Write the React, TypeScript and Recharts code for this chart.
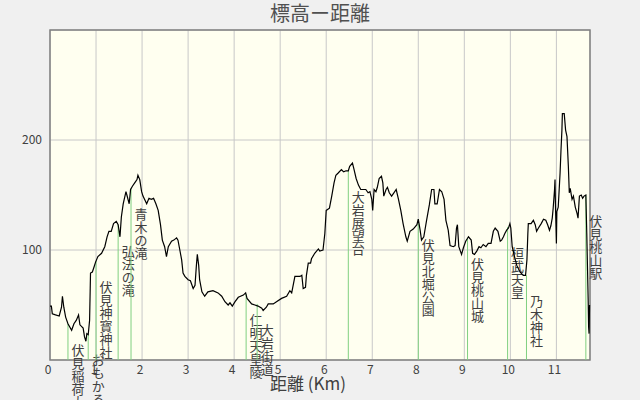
import React from 'react';
import { LineChart, Line, XAxis, YAxis, CartesianGrid, ReferenceLine, ReferenceArea } from 'recharts';

// distance along the route (km) and elevation (m)
const distances = [
  0.0, 0.03, 0.05, 0.12, 0.2, 0.25, 0.27, 0.3, 0.34, 0.39, 0.47, 0.52, 0.57, 0.62, 0.65, 0.72, 0.75, 0.78, 0.8, 0.83,
  0.86, 0.88, 0.92, 0.96, 0.99, 1.04, 1.12, 1.19, 1.24, 1.28, 1.33, 1.38, 1.44, 1.48, 1.52, 1.55, 1.59, 1.65, 1.67, 1.72,
  1.75, 1.79, 1.84, 1.89, 1.91, 1.95, 1.99, 2.02, 2.1, 2.15, 2.2, 2.25, 2.3, 2.35, 2.4, 2.44, 2.49, 2.53, 2.57, 2.64,
  2.69, 2.75, 2.78, 2.82, 2.86, 2.89, 2.93, 3.0, 3.05, 3.11, 3.15, 3.18, 3.2, 3.23, 3.25, 3.3, 3.36, 3.43, 3.54, 3.65,
  3.73, 3.8, 3.87, 3.91, 3.96, 4.02, 4.09, 4.2, 4.25, 4.28, 4.38, 4.45, 4.52, 4.6, 4.63, 4.7, 4.74, 4.85, 4.92, 5.03,
  5.14, 5.21, 5.25, 5.32, 5.43, 5.47, 5.5, 5.55, 5.57, 5.61, 5.66, 5.68, 5.75, 5.83, 5.86, 5.93, 5.97, 6.0, 6.07, 6.12,
  6.17, 6.21, 6.26, 6.33, 6.38, 6.43, 6.48, 6.51, 6.57, 6.6, 6.65, 6.7, 6.75, 6.8, 6.86, 6.91, 6.95, 6.99, 7.01, 7.04,
  7.08, 7.11, 7.15, 7.2, 7.23, 7.25, 7.3, 7.33, 7.37, 7.42, 7.47, 7.52, 7.57, 7.62, 7.67, 7.73, 7.76, 7.82, 7.89, 7.97,
  8.0, 8.04, 8.07, 8.12, 8.18, 8.24, 8.29, 8.34, 8.36, 8.41, 8.46, 8.51, 8.56, 8.6, 8.65, 8.69, 8.76, 8.8, 8.83, 8.85,
  8.88, 8.94, 8.98, 9.03, 9.09, 9.15, 9.18, 9.22, 9.27, 9.32, 9.36, 9.41, 9.47, 9.52, 9.58, 9.63, 9.67, 9.73, 9.78, 9.81,
  9.85, 9.88, 9.92, 9.96, 9.99, 10.01, 10.04, 10.09, 10.14, 10.21, 10.28, 10.33, 10.36, 10.38, 10.39, 10.45, 10.5, 10.54, 10.57, 10.61,
  10.67, 10.72, 10.77, 10.81, 10.85, 10.88, 10.91, 10.93, 10.96, 10.97, 10.98, 11.0, 11.01, 11.04, 11.08, 11.1, 11.12, 11.13, 11.17, 11.2,
  11.23, 11.26, 11.28, 11.3, 11.34, 11.37, 11.41, 11.45, 11.47, 11.5, 11.54, 11.57, 11.6, 11.64, 11.66, 11.69, 11.7, 11.71, 11.72,
];
const elevations = [
  49, 49, 42, 41, 40, 48, 58, 48, 39, 33, 27, 33, 36, 41, 32, 29, 21, 17, 24, 23,
  36, 79, 80, 85, 89, 94, 97, 103, 112, 117, 117, 124, 126, 123, 112, 130, 142, 153, 150, 142,
  155, 158, 161, 164, 168, 164, 153, 149, 142, 147, 146, 147, 142, 136, 123, 109, 103, 94, 103, 108,
  109, 111, 109, 100, 91, 79, 76, 73, 72, 65, 68, 86, 96, 86, 73, 62, 58, 62, 63, 61,
  58, 53, 50, 52, 49, 53, 57, 59, 61, 56, 51, 50, 49, 47, 45, 48, 51, 51, 53, 56,
  58, 63, 61, 76, 76, 77, 65, 66, 77, 88, 88, 92, 97, 101, 99, 100, 115, 136, 138, 149,
  161, 168, 170, 173, 171, 172, 172, 176, 179, 174, 165, 159, 155, 155, 155, 152, 153, 146, 136, 155,
  153, 157, 165, 167, 161, 149, 155, 157, 152, 149, 152, 155, 146, 136, 124, 112, 108, 117, 119, 123,
  128, 118, 109, 112, 127, 141, 155, 155, 142, 142, 155, 153, 146, 127, 118, 104, 103, 104, 120, 123,
  103, 96, 102, 108, 112, 109, 97, 96, 99, 103, 102, 105, 103, 106, 106, 117, 120, 117, 108, 109,
  112, 115, 118, 120, 124, 120, 103, 94, 86, 80, 77, 77, 91, 115, 124, 124, 127, 123, 117, 120,
  124, 128, 127, 123, 118, 122, 129, 138, 155, 164, 140, 106, 135, 139, 170, 191, 209, 224, 224, 209,
  203, 176, 152, 156, 146, 149, 139, 133, 129, 149, 150, 147, 149, 150, 115, 55, 30, 24, 50,
];

// landmarks along the route
const stationNames = [
  '伏見稲荷大社', 'おもかる石', '伏見神寳神社', '弘法の滝', '青木の滝', '仁明天皇陵', '大岩街道',
  '大岩展望台', '伏見北堀公園', '伏見桃山城', '桓武天皇', '乃木神社', '伏見桃山駅',
];
const stationKm = [0.39, 0.83, 1.0, 1.48, 1.76, 4.26, 4.5, 6.48, 8.0, 9.07, 9.94, 10.35, 11.64];
const stationElev = [33, 24, 90, 123, 156, 60, 51, 172, 128, 111, 121, 77, 150];

const xTicks = [0, 1, 2, 3, 4, 5, 6, 7, 8, 9, 10, 11];
const yTicks = [100, 200];

const data = distances.map((km, i) => ({ km, elev: elevations[i] }));

const font = "'Noto Sans CJK JP', sans-serif";
const textColor = '#404040';

const StationLabel = ({ viewBox, name }: any) => {
  if (!viewBox) return null;
  const chars = Array.from(name as string);
  return (
    <g>
      {chars.map((c, i) => (
        <text
          key={i}
          x={viewBox.x + 10}
          y={viewBox.y + 31 + i * 13}
          textAnchor="middle"
          fontSize={13}
          fontFamily={font}
          fill={textColor}
        >
          {c}
        </text>
      ))}
    </g>
  );
};

const AxisTitle = ({ viewBox }: any) => {
  if (!viewBox) return null;
  return (
    <text x={viewBox.x + viewBox.width / 2 - 12} y={viewBox.y + 30} textAnchor="middle" fontSize={17} fontFamily={font} fill={textColor}>
      距離 (Km)
    </text>
  );
};

export default function App() {
  return (
    <div style={{ position: 'absolute', left: 0, top: 0, width: 640, height: 400, background: '#f0f0f0', overflow: 'hidden' }}>
      <div
        style={{
          position: 'absolute',
          top: 0,
          left: 0,
          width: 640,
          textAlign: 'center',
          fontFamily: font,
          fontSize: 20,
          lineHeight: '26px',
          color: '#505050',
        }}
      >
        標高ー距離
      </div>
      <LineChart width={640} height={400} data={data} margin={{ top: 30, right: 50, bottom: 0, left: 0 }}>
        <CartesianGrid stroke="#c8c8c8" fill="#fffff0" />
        <XAxis
          type="number"
          dataKey="km"
          domain={[0, 11.73]}
          ticks={xTicks}
          axisLine={false}
          tickLine={false}
          tickSize={3}
          height={40}
          tick={{ fontSize: 12, fill: textColor, fontFamily: font, dx: -2 }}
          label={<AxisTitle />}
        />
        <YAxis
          type="number"
          domain={[0, 300]}
          ticks={yTicks}
          width={50}
          axisLine={false}
          tickLine={false}
          tick={{ fontSize: 12, fill: textColor, fontFamily: font }}
        />
        {stationNames.map((name, i) => (
          <ReferenceLine
            key={name}
            segment={[
              { x: stationKm[i], y: 0 },
              { x: stationKm[i], y: stationElev[i] },
            ]}
            stroke="#80d080"
            strokeWidth={1}
            label={<StationLabel name={name} />}
          />
        ))}
        <Line type="linear" dataKey="elev" stroke="#000" strokeWidth={1.2} dot={false} isAnimationActive={false} />
        <ReferenceArea x1={0} x2={11.73} y1={0} y2={300} fill="none" fillOpacity={0} stroke="#808080" strokeWidth={1.5} />
      </LineChart>
    </div>
  );
}
